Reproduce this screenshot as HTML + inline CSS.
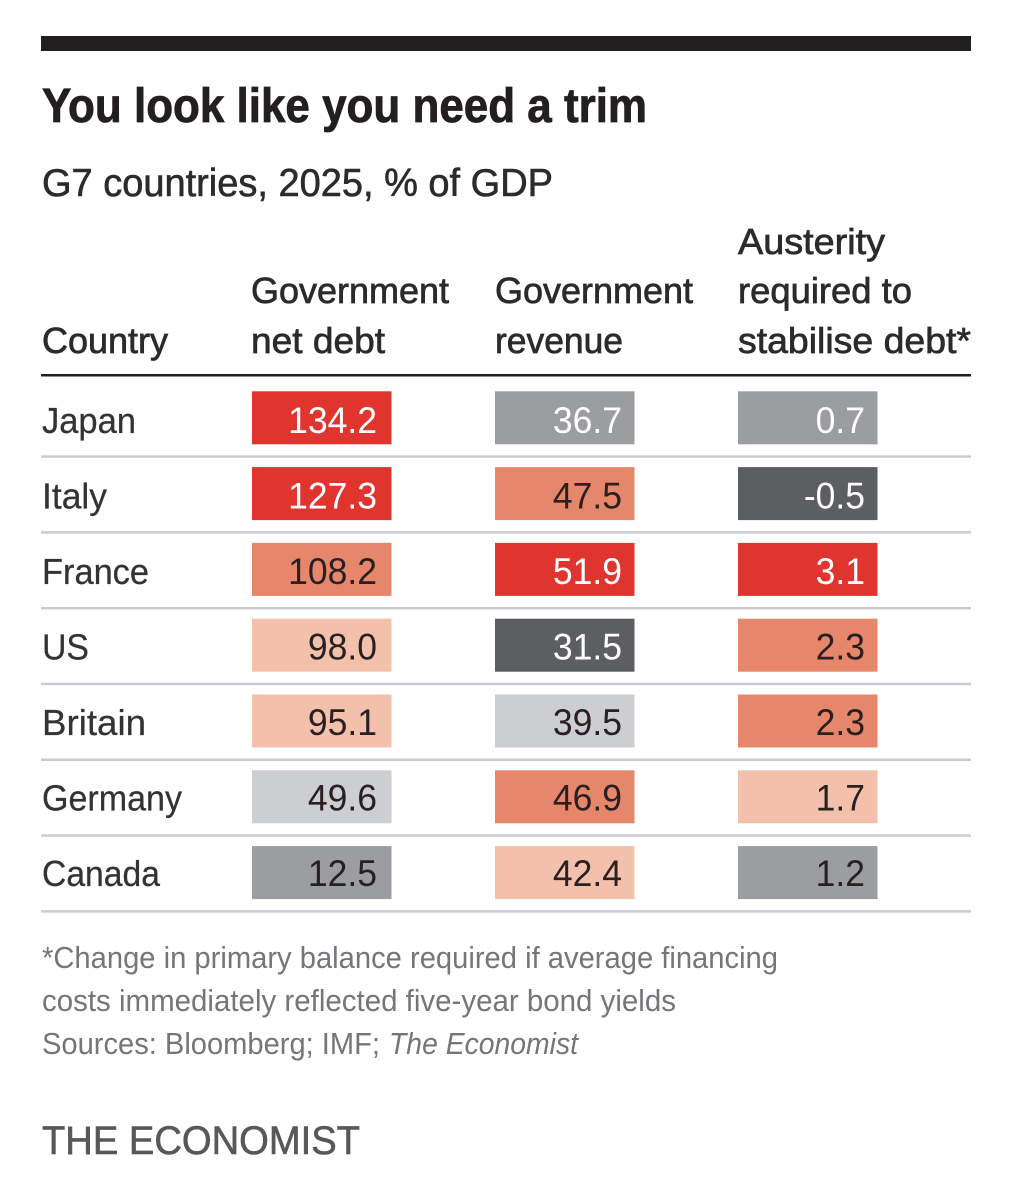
<!DOCTYPE html>
<html lang="en">
<head>
<meta charset="utf-8">
<title>You look like you need a trim</title>
<style>
html,body{margin:0;padding:0;background:#fff;}
svg{display:block;font-family:"Liberation Sans",Arial,sans-serif;}
.rule{fill:#c9ccd3;}
.head{font-size:36px;fill:#2b2a2c;stroke:#2b2a2c;stroke-width:.7px;}
.country{font-size:36px;fill:#333336;stroke:#333336;stroke-width:.25px;}
.val{font-size:37px;}
.foot{font-size:31px;fill:#74767a;}
.fill-red{fill:#e0342f;}
.fill-orange{fill:#e6876b;}
.fill-pale{fill:#f3c0ab;}
.fill-light{fill:#cdced2;}
.fill-grey,.fill-greyw{fill:#9c9da0;}
.fill-dark{fill:#5d5e62;}
.txt-red,.txt-greyw,.txt-dark{fill:#fff;}
.txt-orange,.txt-pale,.txt-light,.txt-grey{fill:#2a2022;}
</style>
</head>
<body>
<svg id="chart" xmlns="http://www.w3.org/2000/svg" width="1013" height="1199" viewBox="0 0 1013 1199">
  <rect width="1013" height="1199" fill="#fff"/>
  <rect x="41" y="36" width="930" height="15" fill="#231f20"/>
  <text x="42" y="122" font-size="48" font-weight="700" fill="#231f20" stroke="#231f20" stroke-width="0.8" textLength="605" lengthAdjust="spacingAndGlyphs">You look like you need a trim</text>
  <text x="42" y="196" font-size="39" fill="#2b2a2c" stroke="#2b2a2c" stroke-width="0.6" textLength="511" lengthAdjust="spacingAndGlyphs">G7 countries, 2025, % of GDP</text>

  <text class="head" x="42" y="353" textLength="126" lengthAdjust="spacingAndGlyphs">Country</text>
  <text class="head" x="251" y="303" textLength="198" lengthAdjust="spacingAndGlyphs">Government</text>
  <text class="head" x="251" y="353" textLength="134" lengthAdjust="spacingAndGlyphs">net debt</text>
  <text class="head" x="495" y="303" textLength="198" lengthAdjust="spacingAndGlyphs">Government</text>
  <text class="head" x="495" y="353" textLength="128" lengthAdjust="spacingAndGlyphs">revenue</text>
  <text class="head" x="738" y="254" textLength="147" lengthAdjust="spacingAndGlyphs">Austerity</text>
  <text class="head" x="738" y="303" textLength="174" lengthAdjust="spacingAndGlyphs">required to</text>
  <text class="head" x="738" y="353" textLength="233" lengthAdjust="spacingAndGlyphs">stabilise debt*</text>
  <rect x="41" y="374" width="930" height="2.5" fill="#231f20"/>

  <g id="rows"></g>

  <text class="foot" x="42" y="968" textLength="736" lengthAdjust="spacingAndGlyphs">*Change in primary balance required if average financing</text>
  <text class="foot" x="42" y="1011" textLength="634" lengthAdjust="spacingAndGlyphs">costs immediately reflected five-year bond yields</text>
  <text class="foot" x="42" y="1054" textLength="338" lengthAdjust="spacingAndGlyphs">Sources: Bloomberg; IMF;</text>
  <text class="foot" x="389" y="1054" font-style="italic" textLength="189" lengthAdjust="spacingAndGlyphs">The Economist</text>
  <text x="42" y="1154" font-size="40" fill="#58585b" stroke="#58585b" stroke-width="0.6" textLength="318" lengthAdjust="spacingAndGlyphs">THE ECONOMIST</text>
</svg>
<script>
var countries = ["Japan", "Italy", "France", "US", "Britain", "Germany", "Canada"];
var netDebt = [134.2, 127.3, 108.2, 98.0, 95.1, 49.6, 12.5];
var revenue = [36.7, 47.5, 51.9, 31.5, 39.5, 46.9, 42.4];
var austerity = [0.7, -0.5, 3.1, 2.3, 2.3, 1.7, 1.2];

var debtBreaks = [30, 90, 100, 120];
var debtBins = ["grey", "light", "pale", "orange", "red"];
var revenueBreaks = [35, 38, 41, 45, 50];
var revenueBins = ["dark", "greyw", "light", "pale", "orange", "red"];
var austerityBreaks = [0, 1, 1.5, 2, 3];
var austerityBins = ["dark", "greyw", "grey", "pale", "orange", "red"];

var countryWidths = [94, 65, 107, 47, 104, 140, 118];

var NS = "http://www.w3.org/2000/svg";
var rowsGroup = document.getElementById("rows");

function rowTop(i) { return 391.3 + i * 75.8; }
function rowBaseline(i) { return 433 + i * 75.5; }
function binFor(v, breaks, bins) {
  var k = 0;
  while (k < breaks.length && v >= breaks[k]) k++;
  return bins[k];
}
function make(tag, attrs, parent) {
  var el = document.createElementNS(NS, tag);
  for (var k in attrs) el.setAttribute(k, attrs[k]);
  parent.appendChild(el);
  return el;
}

var columns = [
  { key: "debt", values: netDebt, breaks: debtBreaks, bins: debtBins, x: 252, right: 377 },
  { key: "revenue", values: revenue, breaks: revenueBreaks, bins: revenueBins, x: 495, right: 622 },
  { key: "austerity", values: austerity, breaks: austerityBreaks, bins: austerityBins, x: 738, right: 865 }
];

countries.forEach(function (country, i) {
  var y = rowTop(i);
  var base = rowBaseline(i);
  var label = make("text", { "class": "country", x: 42, y: base, textLength: countryWidths[i], lengthAdjust: "spacingAndGlyphs" }, rowsGroup);
  
  
  label.textContent = country;

  columns.forEach(function (col) {
    var v = col.values[i];
    var bin = binFor(v, col.breaks, col.bins);
    var cell = make("rect", { "class": "fill-" + bin, x: col.x, y: y, width: 139.5, height: 53 }, rowsGroup);
    
    
    var t = make("text", {
      "class": "val txt-" + bin,
      "text-anchor": "end",
      transform: "translate(" + col.right + "," + base + ") scale(0.96,1)"
    }, rowsGroup);
    
    
    t.textContent = v.toFixed(1);
  });

  var rule = make("rect", { "class": "rule", x: 41, y: y + 64, width: 930, height: 2.5 }, rowsGroup);
  
  
});
</script>
</body>
</html>
